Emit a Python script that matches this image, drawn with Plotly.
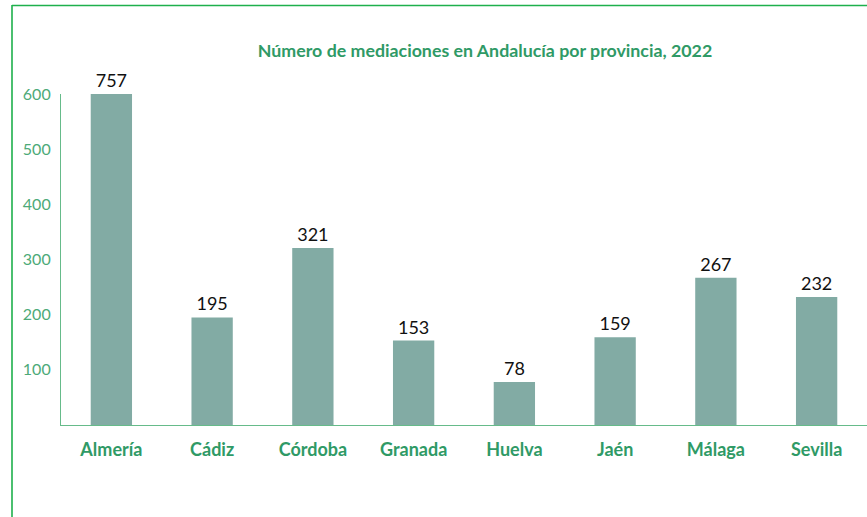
import plotly.graph_objects as go

provincias = ["Almería", "Cádiz", "Córdoba", "Granada", "Huelva", "Jaén", "Málaga", "Sevilla"]
mediaciones = [757, 195, 321, 153, 78, 159, 267, 232]
y_max = 600
y_ticks = [100, 200, 300, 400, 500, 600]

bar_heights = [min(v, y_max) for v in mediaciones]

W, H = 867, 517
ml, mr, mt, mb = 61, 0, 94, 92
pw, ph = W - ml - mr, H - mt - mb

FONT = "Lato, Open Sans, sans-serif"

fig = go.Figure(go.Bar(
    x=provincias, y=bar_heights,
    text=[str(v) for v in mediaciones],
    textposition="outside", cliponaxis=False,
    textfont=dict(family=FONT, size=18, color="#111111"),
    marker=dict(color="#82ABA4", line=dict(width=0)),
    hoverinfo="skip",
))

green_txt = "#2F9A66"
axis_green = "#66BB8A"
border_green = "#1EB04C"

fig.update_layout(
    width=W, height=H,
    margin=dict(l=ml, r=mr, t=mt, b=mb),
    paper_bgcolor="white", plot_bgcolor="white",
    bargap=0.59,
    showlegend=False,
    title=dict(
        text="<b>Número de mediaciones en Andalucía por provincia, 2022</b>",
        x=485 / W, xanchor="center", xref="container",
        y=1 - 51 / H, yanchor="middle", yref="container",
        font=dict(family=FONT, size=17.8, color=green_txt),
    ),
    xaxis=dict(
        showline=True, linecolor=axis_green, linewidth=1.2,
        ticks="", showgrid=False, automargin=False, fixedrange=True,
        tickfont=dict(family=FONT, size=18, color=green_txt, weight="bold"),
        ticklabelstandoff=8,
    ),
    yaxis=dict(
        range=[0, y_max], tickvals=y_ticks,
        showline=True, linecolor=axis_green, linewidth=1.2,
        ticks="", showgrid=False, zeroline=False, automargin=False, fixedrange=True,
        tickfont=dict(family=FONT, size=16, color="#4DAA78"),
        ticklabelstandoff=6,
    ),
    shapes=[
        dict(type="line", xref="paper", yref="paper",
             x0=(12 - ml) / pw, x1=(12 - ml) / pw,
             y0=(H - mb - 5) / ph, y1=(H - mb - 520) / ph,
             line=dict(color=border_green, width=1.6)),
        dict(type="line", xref="paper", yref="paper",
             x0=(12 - ml) / pw, x1=(880 - ml) / pw,
             y0=(H - mb - 5.5) / ph, y1=(H - mb - 5.5) / ph,
             line=dict(color=border_green, width=1.6)),
    ],
)

fig.write_html(
    "out.html",
    config={"displayModeBar": False},
    post_script="document.body.style.margin='0';document.body.style.overflow='hidden';",
)
